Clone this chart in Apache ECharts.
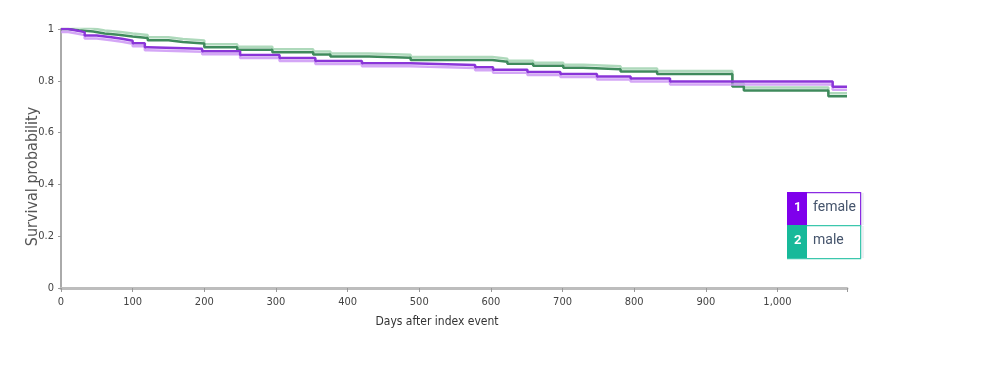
<!DOCTYPE html>
<html>
<head>
<meta charset="utf-8">
<script src="https://cdn.jsdelivr.net/npm/echarts@6/dist/echarts.min.js"></script>
<style>html,body{margin:0;padding:0;background:#fff;}#c{width:983px;height:389px;}</style>
</head>
<body>
<div id="c"></div>
<script>
// Kaplan-Meier step data: [day, survival]
const femaleDays = [0, 10, 20, 33, 50, 70, 85, 100, 117, 121, 197, 250, 305, 355, 420, 487, 578, 603, 651, 697, 748, 795, 850, 1077, 1097];
const femaleSurv = [1, 0.995, 0.988, 0.975, 0.968, 0.962, 0.955, 0.945, 0.93, 0.924, 0.914, 0.9, 0.888, 0.876, 0.868, 0.861, 0.852, 0.843, 0.834, 0.826, 0.817, 0.809, 0.797, 0.777, 0.777];
const maleDays = [0, 10, 25, 45, 61, 80, 100, 121, 150, 170, 200, 246, 295, 352, 376, 430, 488, 602, 623, 659, 701, 729, 781, 832, 937, 953, 1071, 1097];
const maleSurv = [1, 0.995, 0.99, 0.983, 0.978, 0.971, 0.965, 0.957, 0.95, 0.944, 0.93, 0.92, 0.91, 0.902, 0.894, 0.889, 0.88, 0.874, 0.866, 0.858, 0.85, 0.845, 0.836, 0.826, 0.778, 0.763, 0.74, 0.74];
const xTicks = [0, 100, 200, 300, 400, 500, 600, 700, 800, 900, 1000];
const yTicks = [0, 0.2, 0.4, 0.6, 0.8, 1];
const legendItems = [
  {num: '1', name: 'female', color: '#7f00ec', border: '#8a2be2'},
  {num: '2', name: 'male', color: '#17b99a', border: '#3cc7ad'}
];

const zip = (a, b) => a.map((v, i) => [v, b[i]]);
const font = "'Liberation Sans Narrow','DejaVu Sans Condensed',sans-serif";

const chart = echarts.init(document.getElementById('c'));

const legendGraphics = [];
legendItems.forEach((it, i) => {
  const y = 192 + i * 33;
  legendGraphics.push(
    {type: 'rect', left: 860, top: y + 1, shape: {width: 4, height: 32}, style: {fill: '#eef0f4'}, z: 10},
    {type: 'rect', left: 787, top: y, shape: {width: 73, height: 33}, style: {fill: '#fff', stroke: it.border, lineWidth: 1.2}, z: 11},
    {type: 'rect', left: 787, top: y, shape: {width: 20, height: 33}, style: {fill: it.color}, z: 12},
    {type: 'text', left: 794, top: y + 9, style: {text: it.num, fill: '#fff', font: 'bold 13px Roboto, sans-serif'}, z: 13},
    {type: 'text', left: 813, top: y + 8, style: {text: it.name, fill: '#45546c', font: '14px Roboto, sans-serif'}, z: 13}
  );
});

chart.setOption({
  animation: false,
  grid: {left: 61, right: 136, top: 29, bottom: 101},
  xAxis: {
    type: 'value', min: 0, max: 1097, interval: 100,
    name: 'Days after index event', nameLocation: 'middle', nameGap: 28,
    nameTextStyle: {color: '#333', fontSize: 12, fontFamily: font, padding: [0, 34, 0, 0]},
    axisLine: {show: true, onZero: false, lineStyle: {color: '#bdbdbd', width: 3}},
    axisTick: {show: true, length: 4, lineStyle: {color: '#999'}},
    axisLabel: {color: '#444', fontSize: 11, fontFamily: font, margin: 9,
      customValues: xTicks,
      formatter: v => v.toLocaleString('en-US')},
    splitLine: {show: false}
  },
  yAxis: {
    type: 'value', min: 0, max: 1, interval: 0.2,
    name: 'Survival probability', nameLocation: 'middle', nameGap: 20, nameMoveOverlap: false,
    nameTextStyle: {color: '#555', fontSize: 16, fontFamily: font, padding: [0, 36, 0, 0]},
    axisLine: {show: true, lineStyle: {color: '#aaa', width: 2}},
    axisTick: {show: true, length: 3, lineStyle: {color: '#999'}},
    axisLabel: {color: '#444', fontSize: 11, fontFamily: font, margin: 7,
      formatter: v => yTicks.includes(+v.toFixed(1)) ? String(+v.toFixed(1)) : ''},
    splitLine: {show: false}
  },
  series: [
    {
      name: 'female', type: 'line', step: 'end', showSymbol: false, symbol: 'none',
      data: zip(femaleDays, femaleSurv), z: 3,
      lineStyle: {color: '#8a35d8', width: 2.5, shadowColor: 'rgba(205,150,245,0.85)', shadowBlur: 0, shadowOffsetY: 3}
    },
    {
      name: 'male', type: 'line', step: 'end', showSymbol: false, symbol: 'none',
      data: zip(maleDays, maleSurv), z: 2,
      lineStyle: {color: '#3f8a5c', width: 2.5, shadowColor: 'rgba(160,210,175,0.85)', shadowBlur: 0, shadowOffsetY: -3}
    }
  ],
  graphic: legendGraphics
});
</script>
</body>
</html>
